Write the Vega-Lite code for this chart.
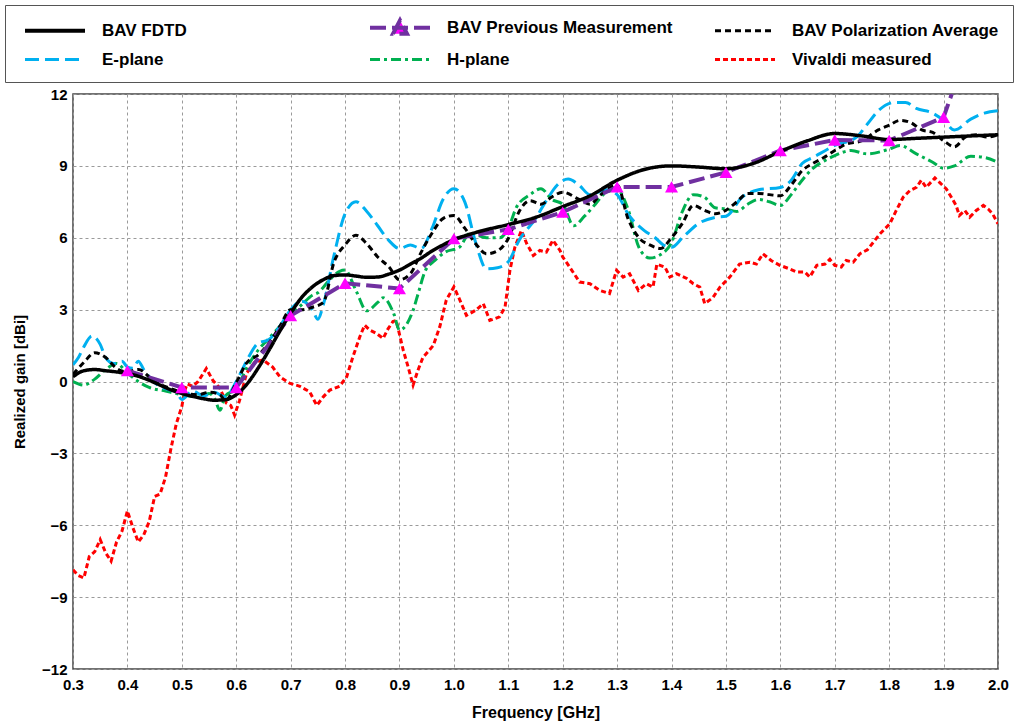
{
"$schema": "https://vega.github.io/schema/vega-lite/v6.json",
"width": 925, "height": 575,
"autosize": "none",
"padding": {"left": 73, "top": 94, "right": 30, "bottom": 59},
"background": "white",
"config": {
  "font": "Liberation Sans",
  "view": {"stroke": "#444", "strokeWidth": 1.5},
  "legend": {"orient": "none", "legendX": -68, "legendY": -89, "direction": "horizontal", "columns": 3, "gridAlign": "all", "columnPadding": 34, "rowPadding": 8, "padding": 14, "strokeColor": "#555", "fillColor": "white", "labelFont": "Liberation Sans", "labelFontSize": 17, "labelFontWeight": "bold", "labelColor": "black", "labelLimit": 0, "labelOffset": 66, "symbolType": "M-0.25,0H5.75", "symbolSize": 400, "symbolStrokeWidth": 3, "title": null}
},
"datasets": {"d": [
{"s":"BAV FDTD","f":0.30,"g":0.2},{"s":"BAV FDTD","f":0.32,"g":0.45},{"s":"BAV FDTD","f":0.34,"g":0.5},{"s":"BAV FDTD","f":0.36,"g":0.45},{"s":"BAV FDTD","f":0.38,"g":0.4},{"s":"BAV FDTD","f":0.40,"g":0.33},{"s":"BAV FDTD","f":0.42,"g":0.22},{"s":"BAV FDTD","f":0.44,"g":0.05},{"s":"BAV FDTD","f":0.46,"g":-0.15},{"s":"BAV FDTD","f":0.48,"g":-0.35},{"s":"BAV FDTD","f":0.50,"g":-0.5},{"s":"BAV FDTD","f":0.52,"g":-0.62},{"s":"BAV FDTD","f":0.54,"g":-0.72},{"s":"BAV FDTD","f":0.56,"g":-0.78},{"s":"BAV FDTD","f":0.58,"g":-0.76},{"s":"BAV FDTD","f":0.60,"g":-0.55},{"s":"BAV FDTD","f":0.62,"g":-0.1},{"s":"BAV FDTD","f":0.64,"g":0.55},{"s":"BAV FDTD","f":0.66,"g":1.3},{"s":"BAV FDTD","f":0.68,"g":2.1},{"s":"BAV FDTD","f":0.70,"g":2.85},{"s":"BAV FDTD","f":0.72,"g":3.5},{"s":"BAV FDTD","f":0.74,"g":3.95},{"s":"BAV FDTD","f":0.76,"g":4.25},{"s":"BAV FDTD","f":0.78,"g":4.42},{"s":"BAV FDTD","f":0.80,"g":4.45},{"s":"BAV FDTD","f":0.82,"g":4.4},{"s":"BAV FDTD","f":0.84,"g":4.35},{"s":"BAV FDTD","f":0.86,"g":4.36},{"s":"BAV FDTD","f":0.88,"g":4.48},{"s":"BAV FDTD","f":0.90,"g":4.65},{"s":"BAV FDTD","f":0.92,"g":4.9},{"s":"BAV FDTD","f":0.94,"g":5.15},{"s":"BAV FDTD","f":0.96,"g":5.45},{"s":"BAV FDTD","f":0.98,"g":5.7},{"s":"BAV FDTD","f":1.00,"g":5.92},{"s":"BAV FDTD","f":1.02,"g":6.08},{"s":"BAV FDTD","f":1.05,"g":6.28},{"s":"BAV FDTD","f":1.10,"g":6.55},{"s":"BAV FDTD","f":1.15,"g":6.85},{"s":"BAV FDTD","f":1.20,"g":7.3},{"s":"BAV FDTD","f":1.25,"g":7.75},{"s":"BAV FDTD","f":1.30,"g":8.4},{"s":"BAV FDTD","f":1.35,"g":8.85},{"s":"BAV FDTD","f":1.40,"g":9.0},{"s":"BAV FDTD","f":1.45,"g":8.95},{"s":"BAV FDTD","f":1.50,"g":8.88},{"s":"BAV FDTD","f":1.55,"g":9.1},{"s":"BAV FDTD","f":1.60,"g":9.6},{"s":"BAV FDTD","f":1.65,"g":10.05},{"s":"BAV FDTD","f":1.70,"g":10.35},{"s":"BAV FDTD","f":1.75,"g":10.25},{"s":"BAV FDTD","f":1.80,"g":10.1},{"s":"BAV FDTD","f":1.85,"g":10.15},{"s":"BAV FDTD","f":1.90,"g":10.2},{"s":"BAV FDTD","f":1.95,"g":10.25},{"s":"BAV FDTD","f":2.00,"g":10.3},
{"s":"BAV Previous Measurement","f":0.4,"g":0.45},{"s":"BAV Previous Measurement","f":0.5,"g":-0.25},{"s":"BAV Previous Measurement","f":0.6,"g":-0.25},{"s":"BAV Previous Measurement","f":0.7,"g":2.75},{"s":"BAV Previous Measurement","f":0.8,"g":4.1},{"s":"BAV Previous Measurement","f":0.9,"g":3.88},{"s":"BAV Previous Measurement","f":1.0,"g":5.96},{"s":"BAV Previous Measurement","f":1.1,"g":6.35},{"s":"BAV Previous Measurement","f":1.2,"g":7.07},{"s":"BAV Previous Measurement","f":1.3,"g":8.12},{"s":"BAV Previous Measurement","f":1.4,"g":8.12},{"s":"BAV Previous Measurement","f":1.5,"g":8.73},{"s":"BAV Previous Measurement","f":1.6,"g":9.64},{"s":"BAV Previous Measurement","f":1.7,"g":10.08},{"s":"BAV Previous Measurement","f":1.8,"g":10.06},{"s":"BAV Previous Measurement","f":1.9,"g":11.03},{"s":"BAV Previous Measurement","f":1.915,"g":12.0},
{"s":"BAV Polarization Average","f":0.30,"g":0.3},{"s":"BAV Polarization Average","f":0.32,"g":0.8},{"s":"BAV Polarization Average","f":0.34,"g":1.2},{"s":"BAV Polarization Average","f":0.36,"g":1.0},{"s":"BAV Polarization Average","f":0.38,"g":0.55},{"s":"BAV Polarization Average","f":0.40,"g":0.4},{"s":"BAV Polarization Average","f":0.42,"g":0.5},{"s":"BAV Polarization Average","f":0.45,"g":0.0},{"s":"BAV Polarization Average","f":0.48,"g":-0.3},{"s":"BAV Polarization Average","f":0.50,"g":-0.45},{"s":"BAV Polarization Average","f":0.53,"g":-0.55},{"s":"BAV Polarization Average","f":0.55,"g":-0.45},{"s":"BAV Polarization Average","f":0.57,"g":-0.55},{"s":"BAV Polarization Average","f":0.58,"g":-0.8},{"s":"BAV Polarization Average","f":0.60,"g":-0.05},{"s":"BAV Polarization Average","f":0.62,"g":0.8},{"s":"BAV Polarization Average","f":0.64,"g":1.1},{"s":"BAV Polarization Average","f":0.66,"g":1.6},{"s":"BAV Polarization Average","f":0.68,"g":2.3},{"s":"BAV Polarization Average","f":0.70,"g":3.0},{"s":"BAV Polarization Average","f":0.72,"g":3.0},{"s":"BAV Polarization Average","f":0.74,"g":3.1},{"s":"BAV Polarization Average","f":0.76,"g":3.3},{"s":"BAV Polarization Average","f":0.78,"g":5.0},{"s":"BAV Polarization Average","f":0.80,"g":5.7},{"s":"BAV Polarization Average","f":0.82,"g":6.1},{"s":"BAV Polarization Average","f":0.84,"g":5.75},{"s":"BAV Polarization Average","f":0.86,"g":5.2},{"s":"BAV Polarization Average","f":0.88,"g":4.8},{"s":"BAV Polarization Average","f":0.90,"g":4.25},{"s":"BAV Polarization Average","f":0.92,"g":4.5},{"s":"BAV Polarization Average","f":0.94,"g":5.4},{"s":"BAV Polarization Average","f":0.96,"g":6.2},{"s":"BAV Polarization Average","f":0.98,"g":6.8},{"s":"BAV Polarization Average","f":1.00,"g":6.93},{"s":"BAV Polarization Average","f":1.02,"g":6.4},{"s":"BAV Polarization Average","f":1.04,"g":5.75},{"s":"BAV Polarization Average","f":1.06,"g":5.33},{"s":"BAV Polarization Average","f":1.08,"g":5.45},{"s":"BAV Polarization Average","f":1.10,"g":5.97},{"s":"BAV Polarization Average","f":1.12,"g":7.1},{"s":"BAV Polarization Average","f":1.14,"g":7.55},{"s":"BAV Polarization Average","f":1.16,"g":7.4},{"s":"BAV Polarization Average","f":1.18,"g":7.7},{"s":"BAV Polarization Average","f":1.20,"g":7.9},{"s":"BAV Polarization Average","f":1.23,"g":7.6},{"s":"BAV Polarization Average","f":1.25,"g":7.4},{"s":"BAV Polarization Average","f":1.27,"g":7.8},{"s":"BAV Polarization Average","f":1.30,"g":8.2},{"s":"BAV Polarization Average","f":1.32,"g":6.8},{"s":"BAV Polarization Average","f":1.34,"g":6.0},{"s":"BAV Polarization Average","f":1.36,"g":5.7},{"s":"BAV Polarization Average","f":1.38,"g":5.55},{"s":"BAV Polarization Average","f":1.40,"g":6.0},{"s":"BAV Polarization Average","f":1.42,"g":6.6},{"s":"BAV Polarization Average","f":1.44,"g":7.35},{"s":"BAV Polarization Average","f":1.46,"g":7.15},{"s":"BAV Polarization Average","f":1.48,"g":7.0},{"s":"BAV Polarization Average","f":1.50,"g":7.15},{"s":"BAV Polarization Average","f":1.52,"g":7.5},{"s":"BAV Polarization Average","f":1.54,"g":7.85},{"s":"BAV Polarization Average","f":1.56,"g":7.85},{"s":"BAV Polarization Average","f":1.58,"g":7.8},{"s":"BAV Polarization Average","f":1.60,"g":7.75},{"s":"BAV Polarization Average","f":1.62,"g":8.2},{"s":"BAV Polarization Average","f":1.64,"g":8.8},{"s":"BAV Polarization Average","f":1.66,"g":9.1},{"s":"BAV Polarization Average","f":1.68,"g":9.35},{"s":"BAV Polarization Average","f":1.70,"g":9.64},{"s":"BAV Polarization Average","f":1.72,"g":9.9},{"s":"BAV Polarization Average","f":1.75,"g":10.05},{"s":"BAV Polarization Average","f":1.78,"g":10.5},{"s":"BAV Polarization Average","f":1.80,"g":10.7},{"s":"BAV Polarization Average","f":1.82,"g":10.9},{"s":"BAV Polarization Average","f":1.84,"g":10.8},{"s":"BAV Polarization Average","f":1.86,"g":10.5},{"s":"BAV Polarization Average","f":1.88,"g":10.4},{"s":"BAV Polarization Average","f":1.90,"g":10.05},{"s":"BAV Polarization Average","f":1.92,"g":9.8},{"s":"BAV Polarization Average","f":1.94,"g":10.2},{"s":"BAV Polarization Average","f":1.96,"g":10.3},{"s":"BAV Polarization Average","f":1.98,"g":10.2},{"s":"BAV Polarization Average","f":2.00,"g":10.3},
{"s":"E-plane","f":0.30,"g":0.7},{"s":"E-plane","f":0.31,"g":1.0},{"s":"E-plane","f":0.32,"g":1.45},{"s":"E-plane","f":0.335,"g":1.9},{"s":"E-plane","f":0.35,"g":1.55},{"s":"E-plane","f":0.36,"g":1.0},{"s":"E-plane","f":0.375,"g":0.75},{"s":"E-plane","f":0.39,"g":0.85},{"s":"E-plane","f":0.40,"g":0.6},{"s":"E-plane","f":0.41,"g":0.55},{"s":"E-plane","f":0.42,"g":0.85},{"s":"E-plane","f":0.43,"g":0.5},{"s":"E-plane","f":0.45,"g":-0.05},{"s":"E-plane","f":0.47,"g":-0.3},{"s":"E-plane","f":0.49,"g":-0.45},{"s":"E-plane","f":0.50,"g":-0.75},{"s":"E-plane","f":0.52,"g":-0.4},{"s":"E-plane","f":0.54,"g":-0.6},{"s":"E-plane","f":0.56,"g":-0.45},{"s":"E-plane","f":0.58,"g":-0.65},{"s":"E-plane","f":0.60,"g":0.0},{"s":"E-plane","f":0.62,"g":0.9},{"s":"E-plane","f":0.64,"g":1.6},{"s":"E-plane","f":0.66,"g":1.75},{"s":"E-plane","f":0.68,"g":2.3},{"s":"E-plane","f":0.70,"g":3.0},{"s":"E-plane","f":0.72,"g":3.35},{"s":"E-plane","f":0.74,"g":3.0},{"s":"E-plane","f":0.75,"g":2.6},{"s":"E-plane","f":0.76,"g":3.2},{"s":"E-plane","f":0.78,"g":5.3},{"s":"E-plane","f":0.80,"g":7.0},{"s":"E-plane","f":0.82,"g":7.5},{"s":"E-plane","f":0.84,"g":7.1},{"s":"E-plane","f":0.86,"g":6.5},{"s":"E-plane","f":0.88,"g":5.9},{"s":"E-plane","f":0.90,"g":5.55},{"s":"E-plane","f":0.92,"g":5.7},{"s":"E-plane","f":0.94,"g":5.55},{"s":"E-plane","f":0.96,"g":6.4},{"s":"E-plane","f":0.98,"g":7.6},{"s":"E-plane","f":1.00,"g":8.05},{"s":"E-plane","f":1.02,"g":7.5},{"s":"E-plane","f":1.04,"g":5.8},{"s":"E-plane","f":1.06,"g":4.7},{"s":"E-plane","f":1.08,"g":4.75},{"s":"E-plane","f":1.10,"g":5.0},{"s":"E-plane","f":1.12,"g":5.9},{"s":"E-plane","f":1.15,"g":6.8},{"s":"E-plane","f":1.17,"g":7.55},{"s":"E-plane","f":1.19,"g":8.2},{"s":"E-plane","f":1.21,"g":8.45},{"s":"E-plane","f":1.23,"g":8.2},{"s":"E-plane","f":1.25,"g":7.8},{"s":"E-plane","f":1.28,"g":8.0},{"s":"E-plane","f":1.30,"g":7.8},{"s":"E-plane","f":1.32,"g":7.0},{"s":"E-plane","f":1.35,"g":6.3},{"s":"E-plane","f":1.37,"g":6.0},{"s":"E-plane","f":1.385,"g":5.7},{"s":"E-plane","f":1.40,"g":5.6},{"s":"E-plane","f":1.42,"g":6.0},{"s":"E-plane","f":1.45,"g":6.6},{"s":"E-plane","f":1.48,"g":6.85},{"s":"E-plane","f":1.50,"g":6.9},{"s":"E-plane","f":1.53,"g":7.7},{"s":"E-plane","f":1.56,"g":8.0},{"s":"E-plane","f":1.60,"g":8.1},{"s":"E-plane","f":1.62,"g":8.4},{"s":"E-plane","f":1.64,"g":9.1},{"s":"E-plane","f":1.66,"g":9.35},{"s":"E-plane","f":1.70,"g":9.85},{"s":"E-plane","f":1.74,"g":10.2},{"s":"E-plane","f":1.76,"g":10.75},{"s":"E-plane","f":1.78,"g":11.3},{"s":"E-plane","f":1.81,"g":11.65},{"s":"E-plane","f":1.83,"g":11.65},{"s":"E-plane","f":1.85,"g":11.4},{"s":"E-plane","f":1.88,"g":11.2},{"s":"E-plane","f":1.90,"g":10.9},{"s":"E-plane","f":1.92,"g":10.5},{"s":"E-plane","f":1.95,"g":10.95},{"s":"E-plane","f":1.975,"g":11.2},{"s":"E-plane","f":2.00,"g":11.3},
{"s":"H-plane","f":0.30,"g":0.0},{"s":"H-plane","f":0.32,"g":-0.15},{"s":"H-plane","f":0.34,"g":0.1},{"s":"H-plane","f":0.36,"g":0.5},{"s":"H-plane","f":0.38,"g":0.75},{"s":"H-plane","f":0.40,"g":0.35},{"s":"H-plane","f":0.42,"g":0.0},{"s":"H-plane","f":0.44,"g":-0.25},{"s":"H-plane","f":0.47,"g":-0.4},{"s":"H-plane","f":0.50,"g":-0.55},{"s":"H-plane","f":0.53,"g":-0.65},{"s":"H-plane","f":0.55,"g":-0.5},{"s":"H-plane","f":0.56,"g":-0.7},{"s":"H-plane","f":0.57,"g":-1.2},{"s":"H-plane","f":0.58,"g":-0.6},{"s":"H-plane","f":0.60,"g":-0.3},{"s":"H-plane","f":0.62,"g":0.6},{"s":"H-plane","f":0.64,"g":1.3},{"s":"H-plane","f":0.66,"g":1.8},{"s":"H-plane","f":0.68,"g":2.3},{"s":"H-plane","f":0.70,"g":2.8},{"s":"H-plane","f":0.72,"g":3.2},{"s":"H-plane","f":0.74,"g":3.6},{"s":"H-plane","f":0.75,"g":3.7},{"s":"H-plane","f":0.77,"g":4.2},{"s":"H-plane","f":0.79,"g":4.6},{"s":"H-plane","f":0.80,"g":4.65},{"s":"H-plane","f":0.82,"g":3.8},{"s":"H-plane","f":0.84,"g":2.95},{"s":"H-plane","f":0.86,"g":3.3},{"s":"H-plane","f":0.87,"g":3.5},{"s":"H-plane","f":0.89,"g":2.8},{"s":"H-plane","f":0.90,"g":2.15},{"s":"H-plane","f":0.925,"g":2.97},{"s":"H-plane","f":0.936,"g":3.8},{"s":"H-plane","f":0.947,"g":4.6},{"s":"H-plane","f":0.965,"g":5.05},{"s":"H-plane","f":0.984,"g":5.4},{"s":"H-plane","f":1.01,"g":5.6},{"s":"H-plane","f":1.03,"g":6.2},{"s":"H-plane","f":1.06,"g":6.0},{"s":"H-plane","f":1.084,"g":6.0},{"s":"H-plane","f":1.10,"g":6.4},{"s":"H-plane","f":1.115,"g":7.27},{"s":"H-plane","f":1.14,"g":7.8},{"s":"H-plane","f":1.16,"g":8.05},{"s":"H-plane","f":1.18,"g":7.6},{"s":"H-plane","f":1.20,"g":7.4},{"s":"H-plane","f":1.22,"g":6.5},{"s":"H-plane","f":1.24,"g":6.9},{"s":"H-plane","f":1.26,"g":7.4},{"s":"H-plane","f":1.28,"g":7.9},{"s":"H-plane","f":1.30,"g":8.0},{"s":"H-plane","f":1.32,"g":7.2},{"s":"H-plane","f":1.34,"g":5.6},{"s":"H-plane","f":1.36,"g":5.15},{"s":"H-plane","f":1.38,"g":5.3},{"s":"H-plane","f":1.40,"g":5.8},{"s":"H-plane","f":1.42,"g":7.1},{"s":"H-plane","f":1.44,"g":7.8},{"s":"H-plane","f":1.46,"g":7.7},{"s":"H-plane","f":1.48,"g":7.25},{"s":"H-plane","f":1.50,"g":7.2},{"s":"H-plane","f":1.52,"g":7.1},{"s":"H-plane","f":1.54,"g":7.4},{"s":"H-plane","f":1.56,"g":7.6},{"s":"H-plane","f":1.58,"g":7.5},{"s":"H-plane","f":1.60,"g":7.35},{"s":"H-plane","f":1.62,"g":7.8},{"s":"H-plane","f":1.64,"g":8.4},{"s":"H-plane","f":1.66,"g":8.9},{"s":"H-plane","f":1.68,"g":9.2},{"s":"H-plane","f":1.70,"g":9.43},{"s":"H-plane","f":1.73,"g":9.64},{"s":"H-plane","f":1.76,"g":9.5},{"s":"H-plane","f":1.80,"g":9.7},{"s":"H-plane","f":1.82,"g":9.85},{"s":"H-plane","f":1.85,"g":9.5},{"s":"H-plane","f":1.88,"g":9.15},{"s":"H-plane","f":1.90,"g":8.9},{"s":"H-plane","f":1.92,"g":9.0},{"s":"H-plane","f":1.95,"g":9.4},{"s":"H-plane","f":1.975,"g":9.35},{"s":"H-plane","f":2.00,"g":9.15},
{"s":"Vivaldi measured","f":0.30,"g":-7.86},{"s":"Vivaldi measured","f":0.31,"g":-8.1},{"s":"Vivaldi measured","f":0.32,"g":-8.2},{"s":"Vivaldi measured","f":0.33,"g":-7.3},{"s":"Vivaldi measured","f":0.34,"g":-7.1},{"s":"Vivaldi measured","f":0.35,"g":-6.6},{"s":"Vivaldi measured","f":0.36,"g":-7.15},{"s":"Vivaldi measured","f":0.37,"g":-7.5},{"s":"Vivaldi measured","f":0.38,"g":-6.7},{"s":"Vivaldi measured","f":0.39,"g":-6.25},{"s":"Vivaldi measured","f":0.40,"g":-5.4},{"s":"Vivaldi measured","f":0.41,"g":-6.1},{"s":"Vivaldi measured","f":0.42,"g":-6.7},{"s":"Vivaldi measured","f":0.43,"g":-6.4},{"s":"Vivaldi measured","f":0.44,"g":-5.85},{"s":"Vivaldi measured","f":0.45,"g":-4.8},{"s":"Vivaldi measured","f":0.46,"g":-4.7},{"s":"Vivaldi measured","f":0.47,"g":-4.0},{"s":"Vivaldi measured","f":0.48,"g":-2.8},{"s":"Vivaldi measured","f":0.49,"g":-1.75},{"s":"Vivaldi measured","f":0.50,"g":-1.05},{"s":"Vivaldi measured","f":0.505,"g":-0.4},{"s":"Vivaldi measured","f":0.51,"g":-0.1},{"s":"Vivaldi measured","f":0.52,"g":-0.2},{"s":"Vivaldi measured","f":0.53,"g":0.0},{"s":"Vivaldi measured","f":0.545,"g":0.54},{"s":"Vivaldi measured","f":0.557,"g":0.05},{"s":"Vivaldi measured","f":0.57,"g":-0.28},{"s":"Vivaldi measured","f":0.582,"g":-0.9},{"s":"Vivaldi measured","f":0.59,"g":-1.0},{"s":"Vivaldi measured","f":0.597,"g":-1.4},{"s":"Vivaldi measured","f":0.606,"g":-0.8},{"s":"Vivaldi measured","f":0.619,"g":0.35},{"s":"Vivaldi measured","f":0.634,"g":0.8},{"s":"Vivaldi measured","f":0.649,"g":0.9},{"s":"Vivaldi measured","f":0.667,"g":0.6},{"s":"Vivaldi measured","f":0.68,"g":0.2},{"s":"Vivaldi measured","f":0.698,"g":-0.07},{"s":"Vivaldi measured","f":0.717,"g":-0.2},{"s":"Vivaldi measured","f":0.735,"g":-0.43},{"s":"Vivaldi measured","f":0.748,"g":-1.0},{"s":"Vivaldi measured","f":0.76,"g":-0.64},{"s":"Vivaldi measured","f":0.772,"g":-0.36},{"s":"Vivaldi measured","f":0.79,"g":-0.2},{"s":"Vivaldi measured","f":0.803,"g":0.2},{"s":"Vivaldi measured","f":0.814,"g":1.0},{"s":"Vivaldi measured","f":0.827,"g":1.86},{"s":"Vivaldi measured","f":0.836,"g":2.35},{"s":"Vivaldi measured","f":0.845,"g":2.15},{"s":"Vivaldi measured","f":0.858,"g":2.0},{"s":"Vivaldi measured","f":0.87,"g":1.8},{"s":"Vivaldi measured","f":0.879,"g":2.2},{"s":"Vivaldi measured","f":0.888,"g":2.5},{"s":"Vivaldi measured","f":0.894,"g":2.55},{"s":"Vivaldi measured","f":0.907,"g":1.3},{"s":"Vivaldi measured","f":0.916,"g":0.6},{"s":"Vivaldi measured","f":0.925,"g":-0.15},{"s":"Vivaldi measured","f":0.934,"g":0.47},{"s":"Vivaldi measured","f":0.943,"g":1.0},{"s":"Vivaldi measured","f":0.962,"g":1.5},{"s":"Vivaldi measured","f":0.974,"g":2.27},{"s":"Vivaldi measured","f":0.986,"g":3.4},{"s":"Vivaldi measured","f":1.0,"g":3.95},{"s":"Vivaldi measured","f":1.011,"g":3.4},{"s":"Vivaldi measured","f":1.023,"g":2.76},{"s":"Vivaldi measured","f":1.04,"g":2.97},{"s":"Vivaldi measured","f":1.054,"g":3.25},{"s":"Vivaldi measured","f":1.066,"g":2.55},{"s":"Vivaldi measured","f":1.084,"g":2.7},{"s":"Vivaldi measured","f":1.094,"g":3.1},{"s":"Vivaldi measured","f":1.103,"g":4.64},{"s":"Vivaldi measured","f":1.112,"g":5.6},{"s":"Vivaldi measured","f":1.124,"g":6.3},{"s":"Vivaldi measured","f":1.134,"g":5.75},{"s":"Vivaldi measured","f":1.146,"g":5.26},{"s":"Vivaldi measured","f":1.158,"g":5.47},{"s":"Vivaldi measured","f":1.17,"g":5.4},{"s":"Vivaldi measured","f":1.182,"g":5.9},{"s":"Vivaldi measured","f":1.195,"g":5.47},{"s":"Vivaldi measured","f":1.2,"g":5.2},{"s":"Vivaldi measured","f":1.213,"g":4.77},{"s":"Vivaldi measured","f":1.231,"g":4.15},{"s":"Vivaldi measured","f":1.25,"g":4.08},{"s":"Vivaldi measured","f":1.268,"g":3.8},{"s":"Vivaldi measured","f":1.286,"g":3.67},{"s":"Vivaldi measured","f":1.299,"g":4.64},{"s":"Vivaldi measured","f":1.311,"g":4.36},{"s":"Vivaldi measured","f":1.323,"g":4.5},{"s":"Vivaldi measured","f":1.339,"g":3.8},{"s":"Vivaldi measured","f":1.354,"g":4.08},{"s":"Vivaldi measured","f":1.366,"g":3.94},{"s":"Vivaldi measured","f":1.373,"g":4.9},{"s":"Vivaldi measured","f":1.388,"g":4.77},{"s":"Vivaldi measured","f":1.397,"g":4.36},{"s":"Vivaldi measured","f":1.409,"g":4.5},{"s":"Vivaldi measured","f":1.428,"g":4.3},{"s":"Vivaldi measured","f":1.44,"g":4.08},{"s":"Vivaldi measured","f":1.452,"g":3.94},{"s":"Vivaldi measured","f":1.461,"g":3.25},{"s":"Vivaldi measured","f":1.476,"g":3.5},{"s":"Vivaldi measured","f":1.489,"g":3.94},{"s":"Vivaldi measured","f":1.507,"g":4.36},{"s":"Vivaldi measured","f":1.525,"g":4.9},{"s":"Vivaldi measured","f":1.544,"g":4.98},{"s":"Vivaldi measured","f":1.556,"g":4.9},{"s":"Vivaldi measured","f":1.568,"g":5.33},{"s":"Vivaldi measured","f":1.583,"g":5.05},{"s":"Vivaldi measured","f":1.599,"g":4.85},{"s":"Vivaldi measured","f":1.617,"g":4.7},{"s":"Vivaldi measured","f":1.63,"g":4.57},{"s":"Vivaldi measured","f":1.645,"g":4.57},{"s":"Vivaldi measured","f":1.654,"g":4.36},{"s":"Vivaldi measured","f":1.667,"g":4.85},{"s":"Vivaldi measured","f":1.682,"g":4.9},{"s":"Vivaldi measured","f":1.691,"g":5.1},{"s":"Vivaldi measured","f":1.7,"g":4.85},{"s":"Vivaldi measured","f":1.712,"g":4.78},{"s":"Vivaldi measured","f":1.721,"g":5.05},{"s":"Vivaldi measured","f":1.734,"g":4.98},{"s":"Vivaldi measured","f":1.746,"g":5.33},{"s":"Vivaldi measured","f":1.76,"g":5.5},{"s":"Vivaldi measured","f":1.783,"g":6.16},{"s":"Vivaldi measured","f":1.801,"g":6.58},{"s":"Vivaldi measured","f":1.813,"g":7.14},{"s":"Vivaldi measured","f":1.826,"g":7.7},{"s":"Vivaldi measured","f":1.838,"g":7.97},{"s":"Vivaldi measured","f":1.85,"g":8.1},{"s":"Vivaldi measured","f":1.859,"g":8.4},{"s":"Vivaldi measured","f":1.868,"g":8.1},{"s":"Vivaldi measured","f":1.884,"g":8.5},{"s":"Vivaldi measured","f":1.893,"g":8.3},{"s":"Vivaldi measured","f":1.905,"g":8.04},{"s":"Vivaldi measured","f":1.914,"g":7.7},{"s":"Vivaldi measured","f":1.923,"g":7.35},{"s":"Vivaldi measured","f":1.929,"g":6.93},{"s":"Vivaldi measured","f":1.939,"g":7.14},{"s":"Vivaldi measured","f":1.948,"g":6.86},{"s":"Vivaldi measured","f":1.96,"g":7.14},{"s":"Vivaldi measured","f":1.973,"g":7.35},{"s":"Vivaldi measured","f":1.982,"g":7.2},{"s":"Vivaldi measured","f":1.99,"g":7.0},{"s":"Vivaldi measured","f":2.0,"g":6.58}
]},
"data": {"name": "d"},
"encoding": {
  "x": {"field": "f", "type": "quantitative", "scale": {"domain": [0.3, 2.0], "nice": false, "zero": false},
    "axis": {"title": "Frequency [GHz]", "values": [0.3,0.4,0.5,0.6,0.7,0.8,0.9,1.0,1.1,1.2,1.3,1.4,1.5,1.6,1.7,1.8,1.9,2.0], "format": ".1f", "labelFontSize": 15, "labelFontWeight": "bold", "labelColor": "black", "labelPadding": 8, "ticks": false, "domain": false, "grid": true, "gridDash": [3,3], "gridColor": "#9a9a9a", "gridWidth": 1, "titleFontSize": 16, "titleFontWeight": "bold", "titleColor": "black", "titlePadding": 12, "labelFlush": false}},
  "y": {"field": "g", "type": "quantitative", "scale": {"domain": [-12, 12], "nice": false},
    "axis": {"title": "Realized gain [dBi]", "values": [-12,-9,-6,-3,0,3,6,9,12], "labelFontSize": 15, "labelFontWeight": "bold", "labelColor": "black", "labelPadding": 6, "ticks": false, "domain": false, "grid": true, "gridDash": [3,3], "gridColor": "#9a9a9a", "gridWidth": 1, "titleFontSize": 15, "titleFontWeight": "bold", "titleColor": "black", "titlePadding": 14, "labelFlush": false}}
},
"layer": [
  {
    "encoding": {
      "color": {"field": "s", "type": "nominal", "scale": {"domain": ["BAV FDTD","BAV Previous Measurement","BAV Polarization Average","E-plane","H-plane","Vivaldi measured"], "range": ["#000000","#7030A0","#000000","#00B0F0","#00B050","#FF0000"]},
        "legend": {"encode": {"symbols": {"update": {
          "shape": {"signal": "datum.value === 'BAV Previous Measurement' ? 'M-0.25,0H5.75M2.05,0.6L2.75,-0.75L3.45,0.6Z' : 'M-0.25,0H5.75'"},
          "fill": {"signal": "datum.value === 'BAV Previous Measurement' ? '#FF00FF' : 'transparent'"},
          "strokeWidth": {"signal": "datum.value === 'BAV FDTD' || datum.value === 'BAV Previous Measurement' ? 4 : 3"}
        }}}}},
      "strokeDash": {"field": "s", "type": "nominal", "scale": {"domain": ["BAV FDTD","BAV Previous Measurement","BAV Polarization Average","E-plane","H-plane","Vivaldi measured"], "range": [[1,0],[16,6],[6,4],[14,6],[10,4,3,4],[5,3]]}}
    },
    "layer": [
      {"transform": [{"filter": "datum.s === 'Vivaldi measured'"}], "mark": {"type": "line", "strokeWidth": 3, "clip": true}},
      {"transform": [{"filter": "datum.s === 'H-plane'"}], "mark": {"type": "line", "strokeWidth": 3, "interpolate": "monotone", "clip": true}},
      {"transform": [{"filter": "datum.s === 'E-plane'"}], "mark": {"type": "line", "strokeWidth": 3, "interpolate": "monotone", "clip": true}},
      {"transform": [{"filter": "datum.s === 'BAV Polarization Average'"}], "mark": {"type": "line", "strokeWidth": 3, "interpolate": "monotone", "clip": true}},
      {"transform": [{"filter": "datum.s === 'BAV Previous Measurement'"}], "mark": {"type": "line", "strokeWidth": 4, "clip": true}},
      {"transform": [{"filter": "datum.s === 'BAV FDTD'"}], "mark": {"type": "line", "strokeWidth": 3.5, "interpolate": "monotone", "clip": true}}
    ]
  },
  {"transform": [{"filter": "datum.s === 'BAV Previous Measurement' && datum.f < 1.91"}], "mark": {"type": "point", "shape": "triangle-up", "filled": true, "color": "#FF00FF", "opacity": 1, "size": 170, "clip": true}}
]
}
